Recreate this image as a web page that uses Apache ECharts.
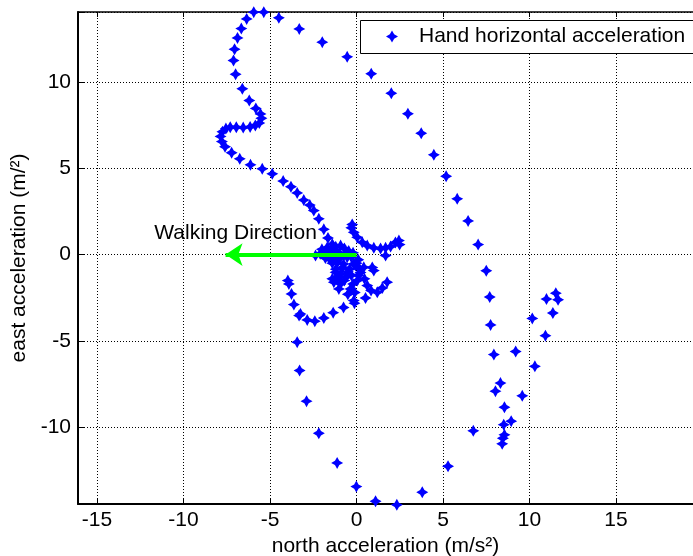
<!DOCTYPE html>
<html>
<head>
<meta charset="utf-8">
<script src="https://cdn.jsdelivr.net/npm/echarts@6/dist/echarts.min.js"></script>
<style>html,body{margin:0;padding:0;background:#fff;}#c{width:693px;height:556px;}</style>
</head>
<body>
<div id="c"></div>
<script>
// Hand horizontal acceleration samples: north (x) and east (y)
const northAcc = [
  -1.65,-1.89,-2.18,-2.47,-2.70,-3.05,-3.43,-3.79,-4.24,-4.87,
  -5.45,-6.13,-6.75,-7.22,-7.60,-7.78,-7.86,-7.75,-7.55,-7.30,-6.95,-6.55,-6.15,-5.85,-5.62,-5.50,-5.55,-5.82,-6.20,-6.60,-6.99,-7.11,-7.05,-6.88,-6.66,-6.35,-5.94,-5.36,
  -4.49,-3.31,-1.98,-0.54,0.85,2.01,2.97,3.74,4.47,5.18,5.82,6.45,7.03,7.50,7.70,7.75,7.94,8.32,8.03,8.55,8.51,8.55,8.46,8.42,8.94,9.58,10.31,9.20,10.92,10.16,11.35,10.98,11.52,11.65,
  6.75,5.29,3.80,2.33,1.10,-0.01,-1.12,-2.18,-2.89,-3.29,-3.43,-3.32,-3.24,-3.62,-3.76,-3.91,-3.97,
  -2.85,-2.41,-1.89,-1.35,-0.75,-0.12,0.52,
  1.77,1.49,1.20,0.84,0.62,0.46,0.23,-0.06,
  -0.25,-0.30,-0.16,0.04,0.33,0.62,1.00,1.39,1.68,1.97,2.25,2.45,2.49,1.68,0.91,1.00,0.42,
  -1.50,-1.40,-1.20,-0.92,-0.70,-0.45,-0.20,-1.80,-2.10,-2.37,-1.60,-1.25,-0.95,-0.54,-0.16,-1.10,-0.75,-1.40,-0.40,-0.92,-1.31,-0.92,-0.92,-1.02,-0.35,0.04,-0.16,-0.60,-1.20,0.10,0.15,-0.30,-1.40,-1.21,
  -1.70,-1.30,-1.00,-0.70,-0.30,-1.50,-1.80,-0.80,-0.50,-1.10,-0.70,-0.20,-2.00,0.00,0.10,-0.10,-0.50
];
const eastAcc = [
  0.96,1.46,2.07,2.55,2.87,3.16,3.57,3.93,4.26,4.68,
  4.97,5.20,5.55,5.90,6.25,6.55,6.85,7.12,7.30,7.38,7.38,7.36,7.40,7.48,7.62,7.90,8.15,8.47,8.93,9.61,10.45,11.25,11.90,12.56,13.10,13.66,14.05,14.05,
  13.72,13.08,12.31,11.46,10.48,9.35,8.16,7.03,5.78,4.54,3.23,1.95,0.58,-0.94,-2.46,-4.08,-5.80,-7.45,-7.92,-8.85,-9.86,-10.45,-10.65,-10.97,-9.66,-8.19,-6.48,-5.62,-4.70,-3.70,-3.39,-2.58,-2.24,-2.62,
  -10.22,-12.27,-13.78,-14.51,-14.30,-13.45,-12.08,-10.36,-8.50,-6.72,-5.08,-3.54,-3.44,-2.90,-2.28,-1.70,-1.51,
  -3.79,-3.86,-3.68,-3.37,-3.07,-2.82,-2.52,
  -1.60,-1.94,-2.19,-2.09,-1.80,-1.41,-1.04,-0.64,
  1.74,1.55,1.29,1.00,0.71,0.52,0.39,0.35,0.39,0.46,0.70,0.81,0.58,-0.06,-0.75,-0.93,-0.74,
  0.23,0.60,0.45,0.52,0.35,0.20,0.10,0.10,0.05,-0.06,-0.15,-0.10,-0.20,-0.16,-0.54,-0.45,-0.55,-0.50,-0.85,-1.12,-1.60,-1.70,-1.51,-1.99,-1.99,-1.51,-2.67,-1.30,-0.85,-0.30,-0.80,-1.20,-1.41,-1.03,
  0.40,0.25,0.10,0.00,-0.15,-0.30,-0.20,-0.75,-1.00,-1.30,-1.50,-1.70,0.30,-0.50,-1.20,-2.20,-2.30
];
// Axis extents and tick step
const xRange = [-16.1, 19.45];
const yRange = [-14.46, 14.06];
const tickStep = 5;
// Walking direction arrow (from, to) and its caption
const arrowFrom = [0, 0];
const arrowTo = [-7.57, 0];
const captionAt = [-11.98, 1.24];
const captionText = 'Walking Direction';
const seriesName = 'Hand horizontal acceleration';

const points = northAcc.map((v, i) => [v, eastAcc[i]]);
const star = 'path://M0,-10 L3.6,-3.6 L10,0 L3.6,3.6 L0,10 L-3.6,3.6 L-10,0 L-3.6,-3.6 Z';
const FONT = 'Liberation Sans, Arial, sans-serif';
const tickFmt = v => (Math.abs(v / tickStep - Math.round(v / tickStep)) < 1e-6 ? String(Math.round(v)) : '');

const chart = echarts.init(document.getElementById('c'), null, {renderer: 'canvas'});
chart.setOption({
  animation: false,
  backgroundColor: '#fff',
  textStyle: {fontFamily: FONT},
  grid: {left: 78, right: 0, top: 12, bottom: 52, containLabel: false, outerBoundsMode: 'none'},
  graphic: [{
    type: 'rect', z: 10, silent: true,
    shape: {x: 360.5, y: 20.5, width: 400, height: 33},
    style: {fill: '#fff', stroke: '#000', lineWidth: 1}
  }],
  legend: {
    data: [seriesName],
    left: 360, top: 20, z: 20,
    padding: [6, 20, 6, 26],
    backgroundColor: 'transparent', borderWidth: 0,
    itemWidth: 12, itemHeight: 12,
    itemStyle: {opacity: 1},
    textStyle: {fontSize: 21, color: '#000', fontFamily: FONT, padding: [0, 0, 0, 16]}
  },
  xAxis: [{
    type: 'value', min: xRange[0], max: xRange[1], splitNumber: 7,
    name: 'north acceleration (m/s²)', nameLocation: 'middle', nameGap: 30,
    nameTextStyle: {fontSize: 21, color: '#000', fontFamily: FONT},
    axisLine: {show: true, onZero: false, lineStyle: {color: '#000', width: 2}},
    axisTick: {show: true, inside: true, length: 6, lineStyle: {color: '#000'}},
    axisLabel: {fontSize: 21, color: '#000', margin: 6, formatter: tickFmt, interval: 0, fontFamily: FONT},
    splitLine: {show: true, lineStyle: {color: '#000', type: [1, 2], width: 1}}
  }, {
    type: 'value', position: 'top', min: xRange[0], max: xRange[1], splitNumber: 7,
    axisLine: {show: true, onZero: false, lineStyle: {color: '#000', width: 1.5}},
    axisTick: {show: true, inside: true, length: 5, lineStyle: {color: '#000'}},
    axisLabel: {show: false}, splitLine: {show: false}
  }],
  yAxis: [{
    type: 'value', min: yRange[0], max: yRange[1], splitNumber: 5,
    name: 'east acceleration (m/²)', nameLocation: 'middle', nameGap: 46,
    nameTextStyle: {fontSize: 21, color: '#000', fontFamily: FONT},
    axisLine: {show: true, onZero: false, lineStyle: {color: '#000', width: 2}},
    axisTick: {show: true, inside: true, length: 6, lineStyle: {color: '#000'}},
    axisLabel: {fontSize: 21, color: '#000', margin: 7, formatter: tickFmt, interval: 0, fontFamily: FONT},
    splitLine: {show: true, lineStyle: {color: '#000', type: [1, 2], width: 1}}
  }],
  series: [{
    name: seriesName,
    type: 'scatter',
    data: points,
    symbol: star,
    symbolSize: 12,
    itemStyle: {color: '#0000ff', opacity: 1},
    clip: false,
    z: 2
  }, {
    name: 'arrow',
    type: 'scatter',
    data: [captionAt],
    symbolSize: 0,
    itemStyle: {opacity: 1},
    z: 5,
    label: {show: true, position: 'right', distance: 5, formatter: captionText, fontSize: 21, color: '#000', opacity: 1, fontFamily: FONT},
    markLine: {
      silent: true,
      symbol: ['none', 'arrow'],
      symbolSize: 17,
      label: {show: false},
      lineStyle: {color: '#00ff00', width: 4, type: 'solid', opacity: 1},
      emphasis: {disabled: true},
      data: [[{coord: arrowFrom}, {coord: arrowTo}]]
    }
  }]
});
</script>
</body>
</html>
